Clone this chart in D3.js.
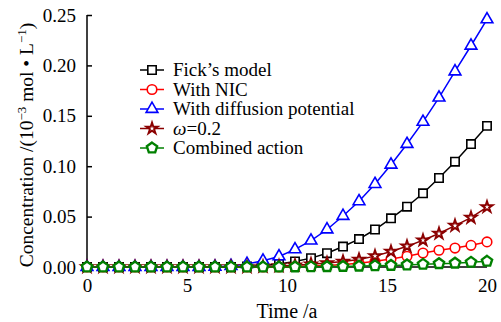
<!DOCTYPE html>
<html>
<head>
<meta charset="utf-8">
<script src="https://cdn.jsdelivr.net/npm/d3@7"></script>
<style>
  html, body { margin: 0; padding: 0; background: #fff; }
  svg { display: block; }
  svg text { font-family: "Liberation Serif", "Times New Roman", Times, "DejaVu Serif", serif; fill: #000; }
</style>
</head>
<body>
<svg id="chart" width="501" height="322"></svg>
<script>
// Time (years)
const years = [0, 0.8, 1.6, 2.4, 3.2, 4.0, 4.8, 5.6, 6.4, 7.2, 8.0, 8.8, 9.6,
               10.4, 11.2, 12.0, 12.8, 13.6, 14.4, 15.2, 16.0, 16.8, 17.6, 18.4, 19.2, 20.0];

// Concentration (10^-3 mol/L) for each model
const fickModel = [0, 0, 0, 0, 0, 0, 0, 0, 0, 0, 0.0005, 0.0015, 0.003,
                   0.0055, 0.0088, 0.0137, 0.0203, 0.0277, 0.0372, 0.0483, 0.0598, 0.0731, 0.0883, 0.1045, 0.122, 0.140];
const withNIC = [0, 0, 0, 0, 0, 0, 0, 0, 0, 0, 0, 0, 0,
                 0.0005, 0.001, 0.0015, 0.0025, 0.0037, 0.0056, 0.008, 0.0106, 0.0139, 0.0166, 0.0188, 0.0215, 0.0249];
const withDiffusion = [0, 0, 0, 0, 0, 0, 0, 0, 0.0003, 0.001, 0.003, 0.0063, 0.0105,
                       0.0175, 0.0262, 0.0372, 0.0506, 0.0652, 0.0823, 0.1015, 0.122, 0.144, 0.168, 0.194, 0.2195, 0.2457];
const omega02 = [0, 0, 0, 0, 0, 0, 0, 0, 0, 0, 0, 0.0005, 0.001,
                 0.0018, 0.0028, 0.004, 0.0055, 0.0075, 0.0108, 0.0153, 0.0205, 0.0265, 0.0332, 0.041, 0.049, 0.0595];
const combined = [0, 0, 0, 0, 0, 0, 0, 0, 0, 0, 0, 0, 0,
                  0.0001, 0.0002, 0.0004, 0.0006, 0.0009, 0.0012, 0.0016, 0.002, 0.0027, 0.0033, 0.0038, 0.0047, 0.0057];

const xTicks = [0, 5, 10, 15, 20];
const yTicks = [0, 0.05, 0.10, 0.15, 0.20, 0.25];

const seriesNames = ["Fick\u2019s model", "With NIC", "With diffusion potential", "\u03C9=0.2", "Combined action"];
const seriesColors = ["#000000", "#ff0000", "#0000ff", "#8b0000", "#008000"];
const seriesMarkers = ["square", "circle", "triangle", "star", "pentagon"];
const seriesValues = [fickModel, withNIC, withDiffusion, omega02, combined];

const FONT = "Liberation Serif";
const svg = d3.select("#chart");
const x = d3.scaleLinear().domain([0, 20]).range([87, 487]);
const y = d3.scaleLinear().domain([0, 0.25]).range([267, 15]);

// Marker path generators
function pentagonPath(r) {
  const pts = d3.range(5).map(k => {
    const a = -Math.PI / 2 + k * 2 * Math.PI / 5;
    return [r * Math.cos(a), r * Math.sin(a)];
  });
  return d3.line()(pts) + "Z";
}
function markerPath(kind) {
  switch (kind) {
    case "square": return d3.symbol(d3.symbolSquare, 70)();
    case "circle": return d3.symbol(d3.symbolCircle, 72)();
    case "triangle": return d3.symbol(d3.symbolTriangle, 60)();
    case "star": return d3.symbol(d3.symbolStar, 38)();
    case "pentagon": return pentagonPath(5.4);
  }
}
function markerStroke(kind) {
  return kind === "pentagon" ? 2.4 : (kind === "star" ? 2 : 1.6);
}

// Axes
const yAxis = d3.axisLeft(y).tickValues(yTicks).tickSize(-5).tickPadding(11)
  .tickFormat(d3.format(".2f"));
const yg = svg.append("g").attr("transform", "translate(87,0)").call(yAxis)
  .attr("font-family", FONT).attr("font-size", 19);
yg.select(".domain").attr("d", "M0,15V267").attr("stroke", "#000").attr("stroke-width", 1.5);
yg.selectAll(".tick line").attr("stroke", "#000").attr("stroke-width", 1.5);

const xAxis = d3.axisBottom(x).tickValues(xTicks).tickSize(0).tickPadding(12)
  .tickFormat(d3.format("d"));
const xg = svg.append("g").attr("transform", "translate(0,267)").call(xAxis)
  .attr("font-family", FONT).attr("font-size", 19);
xg.select(".domain").attr("d", "M87,0H487").attr("stroke", "#000").attr("stroke-width", 1.5);

// Axis titles
svg.append("text")
  .attr("x", 287).attr("y", 318)
  .attr("text-anchor", "middle")
  .attr("font-family", FONT)
  .attr("font-size", 20)
  .text("Time /a");

const yTitle = svg.append("text")
  .attr("transform", "translate(33,145) rotate(-90)")
  .attr("text-anchor", "middle")
  .attr("font-family", FONT)
  .attr("font-size", 19.5);
yTitle.append("tspan").text("Concentration /(10");
yTitle.append("tspan").attr("dy", -7).attr("font-size", 13).text("\u22123");
yTitle.append("tspan").attr("dy", 7).text(" mol \u2022 L");
yTitle.append("tspan").attr("dy", -7).attr("font-size", 13).text("\u22121");
yTitle.append("tspan").attr("dy", 7).text(")");

// Series lines and markers
const line = d3.line().x((d, i) => x(years[i])).y(d => y(d));
seriesValues.forEach((vals, s) => {
  const g = svg.append("g");
  g.append("path")
    .attr("d", line(vals))
    .attr("fill", "none")
    .attr("stroke", seriesColors[s])
    .attr("stroke-width", 1.5);
  g.selectAll("path.mk").data(vals).join("path")
    .attr("class", "mk")
    .attr("d", markerPath(seriesMarkers[s]))
    .attr("transform", (d, i) => `translate(${x(years[i])},${y(d)})`)
    .attr("fill", "#fff")
    .attr("stroke", seriesColors[s])
    .attr("stroke-width", markerStroke(seriesMarkers[s]));
});

// Legend
const legendY = [70, 89.5, 109, 128.5, 148];
seriesNames.forEach((name, s) => {
  const g = svg.append("g").attr("transform", `translate(0,${legendY[s]})`);
  g.append("line").attr("x1", 140).attr("x2", 164).attr("y1", 0).attr("y2", 0)
    .attr("stroke", seriesColors[s]).attr("stroke-width", 1.5);
  g.append("path").attr("d", markerPath(seriesMarkers[s]))
    .attr("transform", "translate(152,0)")
    .attr("fill", "#fff").attr("stroke", seriesColors[s])
    .attr("stroke-width", markerStroke(seriesMarkers[s]));
  const t = g.append("text").attr("x", 173).attr("y", 6)
    .attr("font-family", FONT).attr("font-size", 19);
  if (s === 3) {
    t.append("tspan").attr("font-style", "italic").text("\u03C9");
    t.append("tspan").text("=0.2");
  } else {
    t.text(name);
  }
});
</script>
</body>
</html>
